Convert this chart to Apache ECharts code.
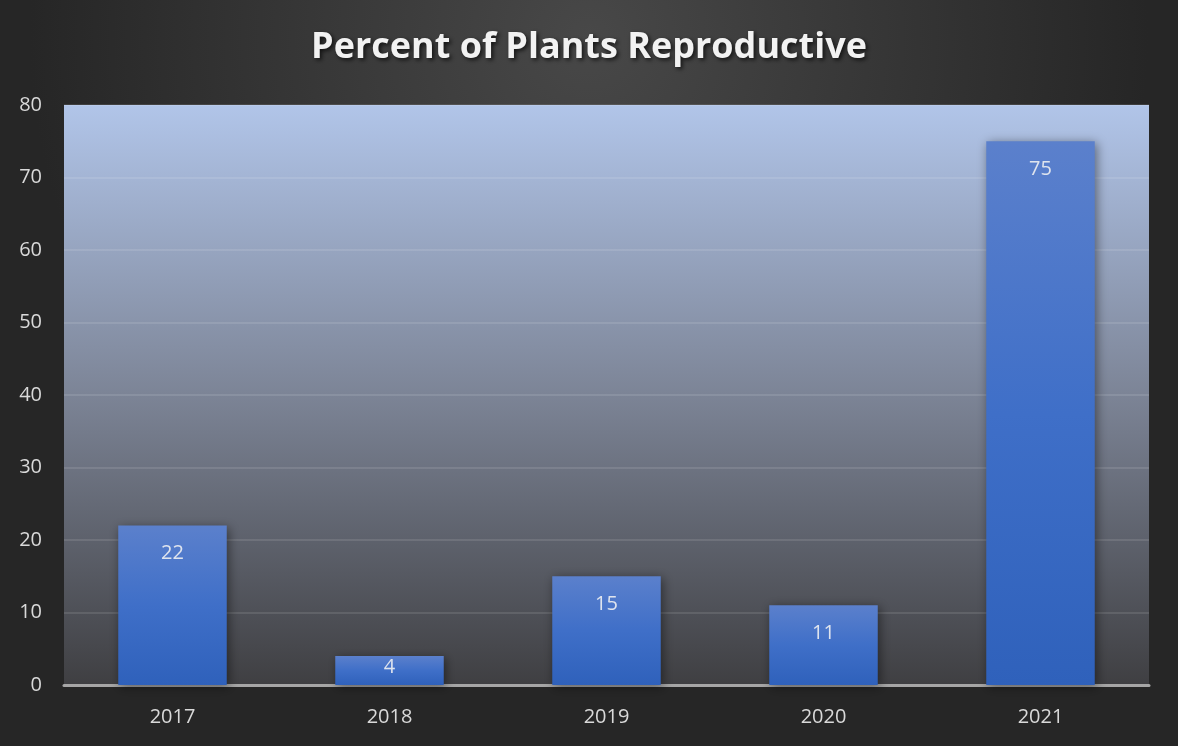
<!DOCTYPE html>
<html>
<head>
<meta charset="utf-8">
<script src="https://cdn.jsdelivr.net/npm/echarts@6/dist/echarts.min.js"></script>
<style>
  html, body { margin: 0; padding: 0; background: #262626; }
  #chart { width: 1178px; height: 746px; }
</style>
</head>
<body>
<div id="chart"></div>
<script>
// Percent of plants reproductive by survey year
const years = ['2017', '2018', '2019', '2020', '2021'];
const percentReproductive = [22, 4, 15, 11, 75];
const yTicks = { min: 0, max: 80, interval: 10 };

const chart = echarts.init(document.getElementById('chart'), null, { renderer: 'canvas' });

const barFill = new echarts.graphic.LinearGradient(0, 0, 0, 1, [
  { offset: 0, color: '#5b80cc' },
  { offset: 0.5, color: '#3f6fc8' },
  { offset: 1, color: '#2f61bb' }
]);

// Short bars keep their value label near the top edge
const barData = percentReproductive.map(v => (
  v < 8 ? { value: v, label: { distance: 1 } } : v
));

chart.setOption({
  backgroundColor: new echarts.graphic.RadialGradient(0.5, 0.05, 0.75, [
    { offset: 0, color: '#484848' },
    { offset: 1, color: '#262626' }
  ]),
  title: {
    text: 'Percent of Plants Reproductive',
    left: 'center',
    top: 25,
    textStyle: {
      fontFamily: 'Open Sans',
      fontWeight: 'bold',
      fontSize: 36,
      color: '#f2f2f2',
      textShadowColor: 'rgba(0,0,0,0.7)',
      textShadowBlur: 4,
      textShadowOffsetX: 2,
      textShadowOffsetY: 2
    }
  },
  grid: {
    left: 64,
    right: 29,
    top: 105,
    bottom: 61,
    show: true,
    borderWidth: 0,
    backgroundColor: new echarts.graphic.LinearGradient(0, 0, 0, 1, [
      { offset: 0, color: '#b1c5e9' },
      { offset: 0.5, color: '#7c8496' },
      { offset: 1, color: '#3f3f42' }
    ])
  },
  xAxis: {
    type: 'category',
    data: years,
    axisTick: { show: false },
    axisLine: { lineStyle: { color: '#a6a6a6', width: 3 } },
    axisLabel: {
      color: '#d9d9d9',
      fontFamily: 'Open Sans',
      fontSize: 20,
      margin: 22
    }
  },
  yAxis: {
    type: 'value',
    min: yTicks.min,
    max: yTicks.max,
    interval: yTicks.interval,
    axisLine: { show: false },
    axisTick: { show: false },
    splitLine: { lineStyle: { color: 'rgba(255,255,255,0.14)', width: 1.5 } },
    axisLabel: {
      color: '#d9d9d9',
      fontFamily: 'Open Sans',
      fontSize: 20,
      margin: 22
    }
  },
  series: [{
    type: 'bar',
    data: barData,
    barWidth: '50%',
    itemStyle: {
      color: barFill,
      shadowColor: 'rgba(0,0,0,0.45)',
      shadowBlur: 10,
      shadowOffsetX: 2,
      shadowOffsetY: 2
    },
    label: {
      show: true,
      position: 'insideTop',
      distance: 18,
      color: '#dfe4ee',
      fontFamily: 'Open Sans',
      fontSize: 20
    }
  }]
});
</script>
</body>
</html>
